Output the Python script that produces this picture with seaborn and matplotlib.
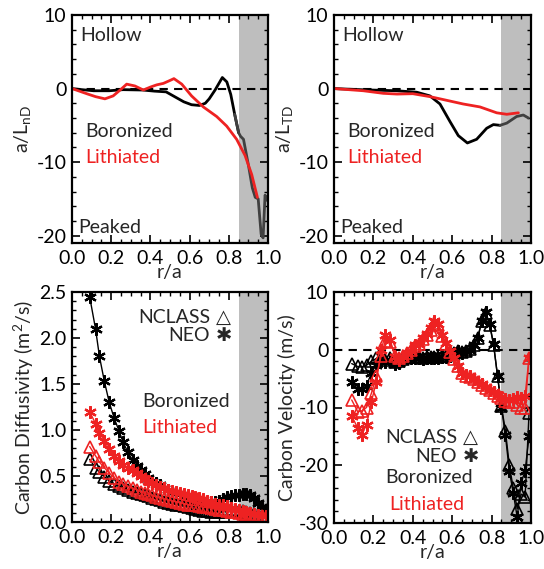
import numpy as np
import pandas as pd
import matplotlib
matplotlib.use("Agg")
import matplotlib.pyplot as plt
import seaborn as sns
from matplotlib.ticker import MultipleLocator, FormatStrFormatter

# ---------------- data ----------------
# top-left: a/L_nD
r_lnd_b = [0, 0.05, 0.11, 0.19, 0.26, 0.36, 0.42, 0.48, 0.53, 0.57, 0.61, 0.65, 0.68, 0.70, 0.73,
           0.767, 0.79, 0.81, 0.83, 0.85, 0.86, 0.875, 0.89, 0.90, 0.92, 0.935, 0.95, 0.965, 0.975,
           0.985, 0.995]
lnd_b = [0, -0.15, -0.3, -0.3, -0.15, -0.2, -0.35, -0.45, -1.2, -1.8, -2.2, -2.3, -2.0, -1.4, -0.2,
         1.5, 0.9, -0.8, -3.5, -6.0, -6.5, -6.9, -9.0, -10.4, -13.5, -14.8, -15.0, -19.8, -20.3,
         -14.5, -15.2]
r_lnd_l = [0, 0.075, 0.12, 0.168, 0.21, 0.25, 0.279, 0.321, 0.364, 0.40, 0.432, 0.466, 0.50, 0.52,
           0.56, 0.61, 0.67, 0.738, 0.789, 0.84, 0.883, 0.917, 0.946]
lnd_l = [0, -0.7, -1.1, -1.4, -1.0, -0.1, 0.6, 0.35, -0.2, 0.2, 0.5, 0.7, 1.1, 1.35, 0.6, -1.0, -2.5,
         -3.8, -5.1, -6.9, -9.1, -11.7, -14.8]

# top-right: a/L_TD
r_ltd_b = [0, 0.149, 0.318, 0.42, 0.487, 0.538, 0.589, 0.631, 0.677, 0.724, 0.775, 0.809, 0.843,
           0.877, 0.927, 0.961, 0.987]
ltd_b = [0, -0.17, -0.3, -0.5, -1.0, -2.1, -4.5, -6.4, -7.4, -6.9, -5.4, -4.9, -5.0, -4.7, -3.8,
         -3.6, -4.0]
r_ltd_l = [0, 0.149, 0.25, 0.32, 0.40, 0.487, 0.555, 0.656, 0.741, 0.826, 0.877, 0.936]
ltd_l = [0, -0.3, -0.65, -0.75, -0.7, -1.1, -1.5, -2.1, -2.5, -3.3, -3.5, -3.3]

# bottom panels: common radial grid
r_grid = [0.09, 0.12, 0.14, 0.165, 0.19, 0.215, 0.24, 0.26, 0.285, 0.31, 0.33, 0.35, 0.37, 0.39,
          0.41, 0.43, 0.45, 0.47, 0.49, 0.51, 0.53, 0.55, 0.57, 0.59, 0.61, 0.63, 0.65, 0.67, 0.69,
          0.71, 0.73, 0.75, 0.77, 0.79, 0.81, 0.83, 0.85, 0.87, 0.89, 0.91, 0.93, 0.95, 0.97, 0.99]

D_neo_b = [2.45, 2.10, 1.80, 1.53, 1.30, 1.13, 0.99, 0.87, 0.76, 0.67, 0.61, 0.56, 0.52, 0.48, 0.45,
           0.42, 0.40, 0.37, 0.35, 0.33, 0.31, 0.30, 0.28, 0.27, 0.26, 0.25, 0.24, 0.23, 0.22, 0.22,
           0.22, 0.23, 0.25, 0.27, 0.28, 0.29, 0.29, 0.30, 0.30, 0.29, 0.26, 0.21, 0.16, 0.12]
D_ncl_b = [0.68, 0.59, 0.54, 0.49, 0.45, 0.41, 0.39, 0.37, 0.35, 0.33, 0.31, 0.30, 0.29, 0.28, 0.26,
           0.25, 0.24, 0.22, 0.21, 0.20, 0.19, 0.18, 0.17, 0.16, 0.15, 0.14, 0.13, 0.12, 0.12, 0.11,
           0.11, 0.11, 0.11, 0.12, 0.12, 0.12, 0.12, 0.12, 0.11, 0.10, 0.09, 0.07, 0.06, 0.05]
D_neo_l = [1.20, 1.07, 0.97, 0.88, 0.79, 0.72, 0.66, 0.62, 0.59, 0.56, 0.53, 0.50, 0.47, 0.45, 0.42,
           0.40, 0.38, 0.37, 0.35, 0.34, 0.33, 0.31, 0.30, 0.29, 0.28, 0.27, 0.26, 0.25, 0.23, 0.22,
           0.20, 0.19, 0.18, 0.17, 0.15, 0.14, 0.13, 0.12, 0.11, 0.10, 0.09, 0.08, 0.07, 0.07]
D_ncl_l = [0.82, 0.72, 0.65, 0.59, 0.53, 0.48, 0.44, 0.41, 0.39, 0.37, 0.35, 0.33, 0.31, 0.30, 0.29,
           0.27, 0.26, 0.25, 0.24, 0.23, 0.22, 0.21, 0.20, 0.19, 0.18, 0.18, 0.17, 0.16, 0.16, 0.15,
           0.14, 0.13, 0.13, 0.12, 0.11, 0.11, 0.10, 0.09, 0.09, 0.08, 0.07, 0.06, 0.06, 0.05]

V_neo_b = [-5.5, -6.8, -6.8, -6.2, -4.0, -2.6, -2.0, -2.2, -1.7, -2.5, -2.3, -1.8, -1.5, -1.4, -1.5,
           -1.4, -1.6, -1.5, -1.5, -1.4, -1.5, -1.3, -1.2, -1.0, -0.6, -0.3, -0.5, -0.3, 0.0, 0.8,
           2.0, 5.0, 6.5, 4.5, 1.0, -4.5, -10.0, -14.8, -21.0, -24.8, -29.0, -23.0, -21.0, -15.0]
V_ncl_b = [-2.4, -2.9, -3.0, -2.7, -2.0, -1.5, -1.5, -1.8, -1.4, -2.2, -2.0, -1.6, -1.3, -1.2, -1.3,
           -1.2, -1.4, -1.3, -1.3, -1.2, -1.3, -1.1, -1.0, -0.8, -0.5, -0.2, -0.4, -0.2, 0.1, 0.9,
           2.1, 5.0, 6.3, 4.3, 0.8, -4.5, -9.8, -14.0, -20.0, -24.0, -27.5, -25.0, -25.5, -11.0]
V_neo_l = [-11.5, -13.5, -14.7, -13.0, -9.0, -5.5, 0.0, 2.6, 1.7, -1.2, -1.7, -1.2, -0.6, -0.2, 0.8,
           1.0, 2.0, 2.8, 3.8, 5.0, 4.5, 2.5, 1.2, -0.3, -1.5, -2.8, -4.0, -4.4, -4.6, -5.0, -5.5,
           -6.0, -6.5, -6.9, -7.4, -7.8, -8.1, -8.5, -8.7, -8.5, -8.2, -8.4, -8.0, -1.4]
V_ncl_l = [-8.7, -10.7, -10.6, -10.0, -7.5, -4.6, -1.0, 1.5, 1.3, -1.0, -1.5, -1.1, -0.5, -0.1, 0.7,
           1.0, 1.8, 2.6, 3.5, 4.6, 4.3, 2.3, 1.0, -0.4, -1.6, -2.9, -4.1, -4.5, -4.7, -5.1, -5.6,
           -6.1, -6.6, -7.0, -7.5, -8.0, -8.4, -8.8, -9.0, -9.0, -9.5, -10.0, -10.0, -1.5]

EDGE = 0.85
BLACK = "#000000"
GRAY_LINE = "#404040"
RED = "#ee2222"
SHADE = "#bebebe"

# ---------------- style ----------------
sns.set_theme(style="ticks")
plt.rcParams["font.family"] = ["Lato", "DejaVu Sans"]
plt.rcParams["axes.unicode_minus"] = False
FS = 14

fig = plt.figure(figsize=(5.44, 5.69), dpi=100)
W = 544.0
H = 569.0


def add_ax(x0, x1, y0, y1):
    return fig.add_axes([x0 / W, 1 - y1 / H, (x1 - x0) / W, (y1 - y0) / H])


axTL = add_ax(72, 268, 15, 243)
axTR = add_ax(334, 531, 15, 243)
axBL = add_ax(72, 268, 292, 522)
axBR = add_ax(334, 531, 292, 523)


def style(ax, ylim, ymaj, ymin, yfmt):
    ax.set_xlim(0, 1)
    ax.set_ylim(*ylim)
    ax.axvspan(EDGE, 1.0, color=SHADE, lw=0, zorder=0)
    ax.xaxis.set_major_locator(MultipleLocator(0.2))
    ax.xaxis.set_minor_locator(MultipleLocator(0.05))
    ax.yaxis.set_major_locator(MultipleLocator(ymaj))
    ax.yaxis.set_minor_locator(MultipleLocator(ymin))
    ax.xaxis.set_major_formatter(FormatStrFormatter("%.1f"))
    ax.yaxis.set_major_formatter(FormatStrFormatter(yfmt))
    ax.tick_params(which="both", direction="in", top=True, right=True, colors="black",
                   labelsize=FS)
    ax.tick_params(axis="x", pad=5)
    ax.tick_params(axis="y", pad=4)
    ax.tick_params(which="major", length=6, width=1.2)
    ax.tick_params(which="minor", length=3, width=1.0)
    for s in ax.spines.values():
        s.set_linewidth(1.6)
        s.set_color("black")
        s.set_zorder(5)
    ax.set_xlabel("r/a", fontsize=FS, labelpad=-2)
    ax.set_facecolor("white")


def profile(ax, r, v, color, split=False):
    df = pd.DataFrame({"r": r, "v": v})
    if split:
        inner = df[df.r <= EDGE + 0.005]
        outer = df[df.r >= EDGE - 0.03]
        sns.lineplot(data=inner, x="r", y="v", ax=ax, color=color, lw=2.0, sort=False,
                     estimator=None, zorder=3)
        sns.lineplot(data=outer, x="r", y="v", ax=ax, color=GRAY_LINE, lw=2.0, sort=False,
                     estimator=None, zorder=3)
    else:
        sns.lineplot(data=df, x="r", y="v", ax=ax, color=color, lw=2.0, sort=False,
                     estimator=None, zorder=4)


ast = (6, 2, 0)


def markers(ax, r, v, color, kind):
    df = pd.DataFrame({"r": r, "v": v})
    if kind == "tri":
        sns.lineplot(data=df, x="r", y="v", ax=ax, color=color, lw=1.0, sort=False,
                     estimator=None, marker="^", markersize=8, markerfacecolor="none",
                     markeredgecolor=color, markeredgewidth=1.2, zorder=3)
    else:
        sns.lineplot(data=df, x="r", y="v", ax=ax, color=color, lw=1.0, sort=False,
                     estimator=None, marker=ast, markersize=9, markeredgecolor=color,
                     markeredgewidth=1.6, zorder=3)


def top_texts(ax, xh, xb):
    ax.text(xh, 0.912, "Hollow", transform=ax.transAxes, fontsize=FS, ha="left", va="center")
    ax.text(xb, 0.487, "Boronized", transform=ax.transAxes, fontsize=FS, ha="left", va="center")
    ax.text(xb, 0.373, "Lithiated", transform=ax.transAxes, fontsize=FS, ha="left", va="center",
            color=RED)
    ax.text(xh - 0.01, 0.07, "Peaked", transform=ax.transAxes, fontsize=FS, ha="left",
            va="center")


# ---- top-left ----
ax = axTL
style(ax, (-21, 10), 10, 2, "%d")
ax.axhline(0, color="black", lw=1.5, ls=(0, (4, 3)), zorder=2)
profile(ax, r_lnd_b, lnd_b, BLACK, split=True)
profile(ax, r_lnd_l, lnd_l, RED)
ax.set_ylabel("a/L$_{\\mathregular{nD}}$", fontsize=FS, labelpad=2)
top_texts(ax, 0.041, 0.066)

# ---- top-right ----
ax = axTR
style(ax, (-21, 10), 10, 2, "%d")
ax.axhline(0, color="black", lw=1.5, ls=(0, (4, 3)), zorder=2)
profile(ax, r_ltd_b, ltd_b, BLACK, split=True)
profile(ax, r_ltd_l, ltd_l, RED)
ax.set_ylabel("a/L$_{\\mathregular{TD}}$", fontsize=FS, labelpad=2)
top_texts(ax, 0.041, 0.066)

# ---- bottom-left ----
ax = axBL
style(ax, (0, 2.5), 0.5, 0.1, "%.1f")
markers(ax, r_grid, D_ncl_b, BLACK, "tri")
markers(ax, r_grid, D_neo_b, BLACK, "ast")
markers(ax, r_grid, D_ncl_l, RED, "tri")
markers(ax, r_grid, D_neo_l, RED, "ast")
ax.set_ylabel("Carbon Diffusivity (m$^{\\mathregular{2}}$/s)", fontsize=FS, labelpad=2)
ax.text(0.704, 0.891, "NCLASS", transform=ax.transAxes, fontsize=FS, ha="right", va="center")
ax.text(0.704, 0.813, "NEO", transform=ax.transAxes, fontsize=FS, ha="right", va="center")
ax.text(0.735, 0.891, "\u25b3", transform=ax.transAxes, fontsize=FS, ha="left", va="center",
        family=["DejaVu Sans"])
ax.text(0.735, 0.813, "\u2731", transform=ax.transAxes, fontsize=FS, ha="left", va="center",
        family=["DejaVu Sans"])
ax.text(0.357, 0.522, "Boronized", transform=ax.transAxes, fontsize=FS, ha="left", va="center")
ax.text(0.357, 0.409, "Lithiated", transform=ax.transAxes, fontsize=FS, ha="left", va="center",
        color=RED)

# ---- bottom-right ----
ax = axBR
style(ax, (-30, 10), 10, 2, "%d")
ax.axhline(0, color="black", lw=1.5, ls=(0, (4, 3)), zorder=2)
markers(ax, r_grid, V_ncl_b, BLACK, "tri")
markers(ax, r_grid, V_neo_b, BLACK, "ast")
markers(ax, r_grid, V_ncl_l, RED, "tri")
markers(ax, r_grid, V_neo_l, RED, "ast")
ax.set_ylabel("Carbon Velocity (m/s)", fontsize=FS, labelpad=2)
ax.text(0.624, 0.372, "NCLASS", transform=ax.transAxes, fontsize=FS, ha="right", va="center")
ax.text(0.624, 0.286, "NEO", transform=ax.transAxes, fontsize=FS, ha="right", va="center")
ax.text(0.655, 0.372, "\u25b3", transform=ax.transAxes, fontsize=FS, ha="left", va="center",
        family=["DejaVu Sans"])
ax.text(0.655, 0.286, "\u2731", transform=ax.transAxes, fontsize=FS, ha="left", va="center",
        family=["DejaVu Sans"])
ax.text(0.259, 0.195, "Boronized", transform=ax.transAxes, fontsize=FS, ha="left", va="center")
ax.text(0.279, 0.078, "Lithiated", transform=ax.transAxes, fontsize=FS, ha="left", va="center",
        color=RED)

fig.savefig("out.png", dpi=100, facecolor="white")
